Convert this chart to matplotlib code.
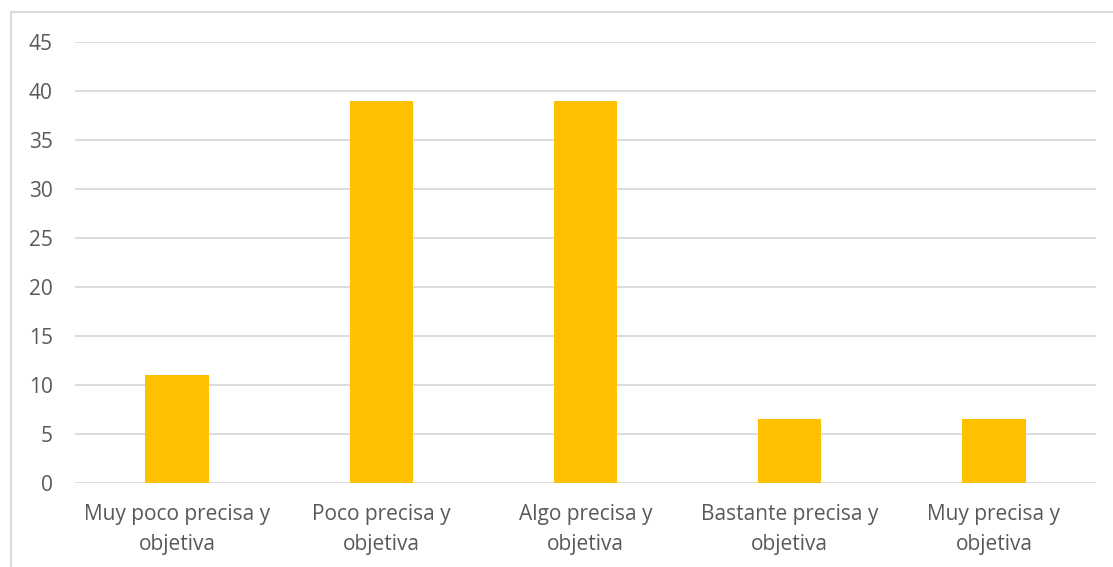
import numpy as np
import matplotlib.pyplot as plt
from matplotlib.patches import Rectangle

categories = ['Muy poco precisa y\nobjetiva', 'Poco precisa y\nobjetiva',
              'Algo precisa y\nobjetiva', 'Bastante precisa y\nobjetiva',
              'Muy precisa y\nobjetiva']
values = [11, 39, 39, 6.5, 6.5]

W, H = 1113, 567
fig = plt.figure(figsize=(W / 100, H / 100), dpi=100)
plt.rcParams['font.family'] = ['Open Sans', 'DejaVu Sans']

# outer chart frame (runs off the right and bottom edges)
fig.patches.append(Rectangle((11 / W, -0.1), 1.2, 1 - 12 / H + 0.1,
                             transform=fig.transFigure, fill=False,
                             edgecolor='#d9d9d9', linewidth=1.5))

ax = fig.add_axes([75 / W, 1 - 483 / H, (1096 - 75) / W, (483 - 42) / H])

x = np.arange(len(categories))
ax.bar(x, values, width=0.31, color='#ffc000', zorder=3)

ax.set_xlim(-0.5, len(categories) - 0.5)
ax.set_ylim(0, 45)
ax.set_yticks(np.arange(0, 46, 5))
ax.set_xticks(x)
ax.set_xticklabels(categories, linespacing=1.6)
ax.yaxis.grid(True, color='#d9d9d9', linewidth=1.3, zorder=0)

for s in ax.spines.values():
    s.set_visible(False)
ax.tick_params(axis='both', length=0, colors='#595959', labelsize=15)
ax.tick_params(axis='y', pad=16)
ax.tick_params(axis='x', pad=15)

plt.savefig('out.png', dpi=100)
